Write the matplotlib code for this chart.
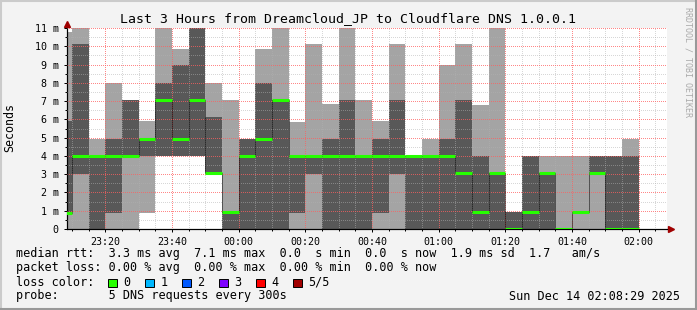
import numpy as np
import pandas as pd
import matplotlib
matplotlib.use("Agg")
import matplotlib.pyplot as plt
import matplotlib.dates as mdates
from matplotlib.ticker import MultipleLocator, FuncFormatter
from matplotlib.patches import Rectangle

plt.rcParams['font.family'] = 'DejaVu Sans Mono'

# 5 pings per step, sorted, in ms (ping3 = median)
ping1 = [0, 0, 0, 0, 0, 0.9, 4.0, 4.0, 4.0, 3.05, 0, 0, 0, 0, 0, 0, 0, 0,
         0, 0, 0, 0, 0, 0, 0, 0, 0, 0, 0, 0, 0, 0, 0, 0, 0]
ping2 = [0.9, 3.0, 0, 0.9, 4.0, 4.0, 4.0, 4.0, 4.0, 3.05, 0, 0, 0, 0, 0.9, 3.0, 0, 0,
         0, 0.9, 3.0, 0, 0, 0, 0, 0, 0, 0, 0, 0, 0, 0.94, 3.05, 0, 0]
median = [0.9, 4.0, 4.0, 4.0, 4.0, 4.95, 7.06, 4.95, 7.06, 3.05, 0.94, 4.0, 4.95, 7.06, 4.0, 4.0, 4.0, 4.0,
          4.0, 4.0, 4.0, 4.0, 4.0, 4.0, 3.05, 0.94, 3.05, 0, 0.94, 3.05, 0, 0.94, 3.05, 0, 0]
ping4 = [5.9, 10.1, 4.0, 4.95, 7.06, 4.95, 8.0, 8.95, 11.0, 6.12, 0.94, 4.95, 8.0, 7.06, 4.0, 4.0, 4.95, 7.06,
         4.0, 4.95, 7.06, 4.0, 4.0, 4.95, 7.06, 4.0, 3.05, 0.94, 4.0, 3.05, 0, 0.94, 4.0, 4.0, 4.0]
ping5 = [10.8, 11.0, 4.95, 8.0, 7.06, 5.9, 11.0, 9.87, 11.0, 8.0, 7.06, 4.95, 9.87, 11.0, 5.87, 10.1, 6.84, 11.0,
         7.06, 5.9, 10.1, 4.0, 4.95, 8.95, 10.1, 6.78, 11.0, 0.94, 4.0, 4.0, 4.0, 4.0, 4.0, 4.0, 4.95]

bin_start = pd.date_range("2025-12-13 23:05", periods=len(median), freq="5min")
t_from = pd.Timestamp("2025-12-13 23:08:29")
t_to = pd.Timestamp("2025-12-14 02:08:29")

loss_labels = ["0", "1", "2", "3", "4", "5/5"]
loss_colors = ["#26ff00", "#00b8ff", "#0059ff", "#7e00ff", "#ff0000", "#a10000"]

title = "Last 3 Hours from Dreamcloud_JP to Cloudflare DNS 1.0.0.1"
rtt_line = "median rtt:  3.3 ms avg  7.1 ms max  0.0  s min  0.0  s now  1.9 ms sd  1.7   am/s"
loss_line = "packet loss: 0.00 % avg  0.00 % max  0.00 % min  0.00 % now"
probe_line = "probe:       5 DNS requests every 300s"
stamp = "Sun Dec 14 02:08:29 2025"

W, H = 697, 310
fig = plt.figure(figsize=(W / 100, H / 100), dpi=100, facecolor="#f3f3f3")
ax = fig.add_axes([67 / W, 1 - 229 / H, 600 / W, 201 / H])
ax.set_facecolor("white")

x = mdates.date2num(bin_start)
step = 5 / 1440
xe = np.append(x, x[-1] + step)
p1 = np.append(ping1, ping1[-1])
p2 = np.append(ping2, ping2[-1])
p3 = np.append(median, median[-1])
p4 = np.append(ping4, ping4[-1])
p5 = np.append(ping5, ping5[-1])

# smoke
ax.fill_between(xe, p1, p5, step="post", color="#a4a4a4", lw=0, zorder=1)
ax.fill_between(xe, p2, p4, step="post", color="#585858", lw=0, zorder=1.5)

# median
ax.step(xe, p3, where="post", color="black", lw=0.72, linestyle=(0, (1, 1)), zorder=3)
ax.hlines(median, x, x + step, colors=loss_colors[0], lw=2.2, zorder=4)

ax.set_xlim(mdates.date2num(t_from), mdates.date2num(t_to))
ax.set_ylim(0, 11)

ax.xaxis.set_major_locator(mdates.MinuteLocator(byminute=[0, 20, 40]))
ax.xaxis.set_minor_locator(mdates.MinuteLocator(byminute=range(0, 60, 5)))
ax.xaxis.set_major_formatter(mdates.DateFormatter("%H:%M"))
ax.yaxis.set_major_locator(MultipleLocator(1))
ax.yaxis.set_minor_locator(MultipleLocator(0.5))
ax.yaxis.set_major_formatter(FuncFormatter(lambda v, p: "0" if v == 0 else "%d m" % v))

ax.set_axisbelow(False)
ax.grid(which="major", color="#ff5f5f", alpha=0.75, lw=0.72, linestyle=(0, (1, 2)), antialiased=False)
ax.grid(which="minor", color="#b0b0b0", alpha=0.5, lw=0.72, linestyle=(0, (1, 2)), antialiased=False)

ax.tick_params(which="major", labelsize=7.2, length=2, width=0.72, pad=4)
ax.tick_params(which="minor", length=1.5, width=0.72)
for s in ["top", "right"]:
    ax.spines[s].set_visible(False)
for s in ["left", "bottom"]:
    ax.spines[s].set_linewidth(0.8)

# axis arrows
ax.plot([0, 1.007], [0, 0], color="black", lw=0.8, transform=ax.transAxes, clip_on=False)
ax.plot([0, 0], [0, 1.01], color="black", lw=0.8, transform=ax.transAxes, clip_on=False)
ax.plot([1.006], [0], marker=">", ms=4, color="#a00000", transform=ax.transAxes, clip_on=False)
ax.plot([0], [1.022], marker="^", ms=4, color="#a00000", transform=ax.transAxes, clip_on=False)

fig.text(348.5 / W, 1 - 19 / H, title, ha="center", va="center", size=9.55)
fig.text(10 / W, 1 - 128 / H, "Seconds", rotation=90, ha="center", va="center", size=8.4)
fig.text(688 / W, 1 - 62 / H, "RRDTOOL / TOBI OETIKER", rotation=270, ha="center", va="center",
         size=6, color="#aaaaaa")

fig.text(16 / W, 1 - 254 / H, rtt_line, va="center", size=8.45)
fig.text(16 / W, 1 - 268 / H, loss_line, va="center", size=8.45)
fig.text(16 / W, 1 - 282 / H, "loss color:", va="center", size=8.45)
fig.text(16 / W, 1 - 296 / H, probe_line, va="center", size=8.45)
fig.text(680 / W, 1 - 296 / H, stamp, ha="right", va="center", size=8.45)

for i in range(len(loss_labels)):
    bx = 108 + i * 37.0
    fig.add_artist(Rectangle((bx / W, 1 - 287 / H), 8.5 / W, 8 / H, transform=fig.transFigure,
                             facecolor=loss_colors[i], edgecolor="black", lw=0.7))
    fig.text((bx + 15.5) / W, 1 - 282 / H, loss_labels[i], va="center", size=8.45)

# frame shading
fig.add_artist(plt.Line2D([0, 1], [1 - 1 / H, 1 - 1 / H], transform=fig.transFigure, color="#cbcbcb", lw=1.5))
fig.add_artist(plt.Line2D([1 / W, 1 / W], [0, 1], transform=fig.transFigure, color="#cbcbcb", lw=1.5))
fig.add_artist(plt.Line2D([0, 1], [1 / H, 1 / H], transform=fig.transFigure, color="#999999", lw=1.5))
fig.add_artist(plt.Line2D([1 - 1 / W, 1 - 1 / W], [0, 1], transform=fig.transFigure, color="#999999", lw=1.5))

fig.savefig("out.png", dpi=100, facecolor=fig.get_facecolor())
